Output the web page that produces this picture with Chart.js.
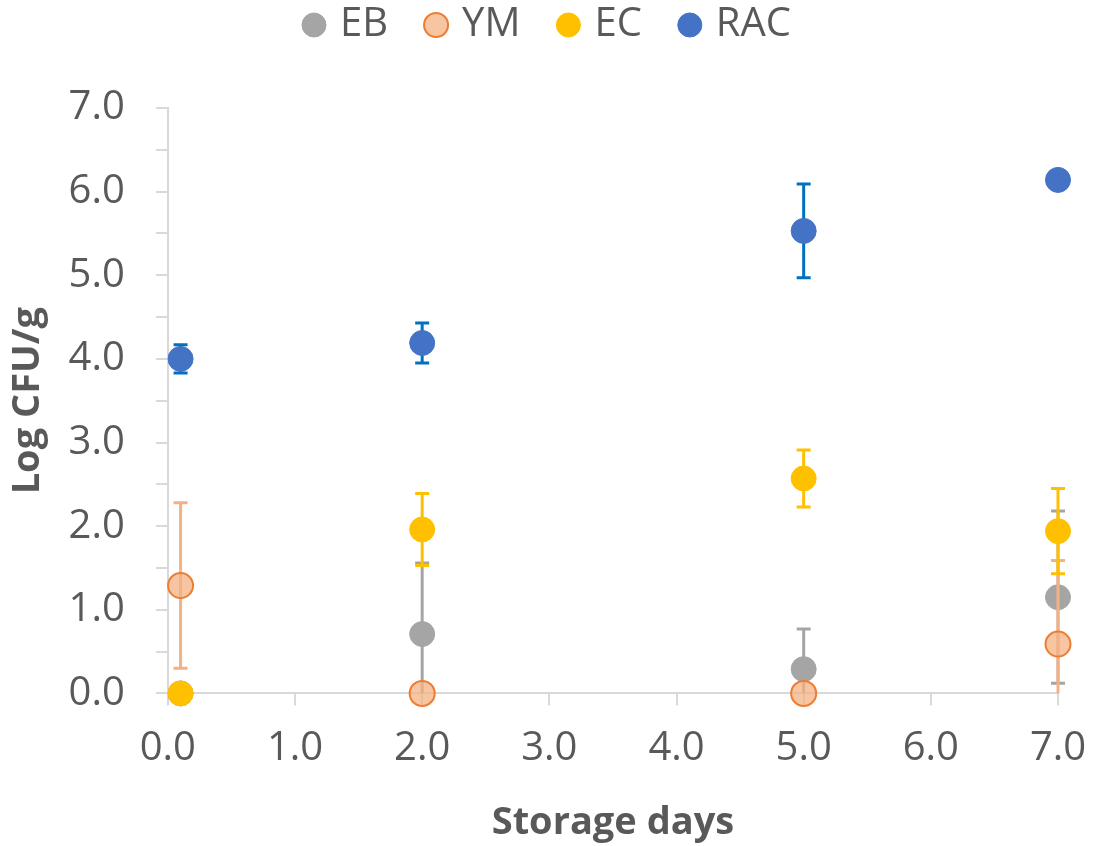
<!DOCTYPE html>
<html>
<head>
<meta charset="utf-8">
<script src="https://cdn.jsdelivr.net/npm/chart.js@4/dist/chart.umd.min.js"></script>
<style>
  html, body { margin: 0; padding: 0; background: #fff; }
  #wrap { width: 1094px; height: 846px; }
</style>
</head>
<body>
<div id="wrap"><canvas id="grafica"></canvas></div>
<script>
// storage days for each sampling point
const days = [0.1, 2, 5, 7];

// Log CFU/g per group, with +/- error
const ebValues = [0, 0.71, 0.29, 1.15];
const ebErrors = [0, 0.85, 0.48, 1.03];
const ymValues = [1.29, 0, 0, 0.59];
const ymErrors = [0.99, 0, 0, 1.0];
const ecValues = [0, 1.96, 2.57, 1.94];
const ecErrors = [0, 0.43, 0.34, 0.51];
const racValues = [4.0, 4.19, 5.53, 6.14];
const racErrors = [0.17, 0.24, 0.56, 0];

const seriesNames = ['EB', 'YM', 'EC', 'RAC'];

const toPoints = vals => vals.map((v, i) => ({ x: days[i], y: v }));

const textColor = '#595959';
const axisColor = '#D9D9D9';
const font = 'Open Sans';

// draws the error bars of a dataset right before its markers
const errorBars = {
  id: 'errorBars',
  beforeDatasetDraw(chart, args) {
    const ds = chart.data.datasets[args.index];
    if (!ds.errors) return;
    const { ctx, chartArea, scales } = chart;
    const xs = scales.x, ys = scales.y;
    ctx.save();
    ctx.beginPath();
    ctx.rect(chartArea.left - 30, chartArea.top - 30, chartArea.right - chartArea.left + 60, chartArea.bottom - chartArea.top + 30);
    ctx.clip();
    ctx.strokeStyle = ds.errorColor;
    ctx.lineWidth = 3;
    ds.data.forEach((p, i) => {
      const e = ds.errors[i];
      if (!e) return;
      const px = xs.getPixelForValue(p.x);
      const top = ys.getPixelForValue(p.y + e);
      const bot = ys.getPixelForValue(p.y - e);
      ctx.beginPath();
      ctx.moveTo(px, top);
      ctx.lineTo(px, bot);
      ctx.moveTo(px - 7, top);
      ctx.lineTo(px + 7, top);
      ctx.moveTo(px - 7, bot);
      ctx.lineTo(px + 7, bot);
      ctx.stroke();
    });
    ctx.restore();
  }
};

// extra room under the legend
const legendGap = {
  id: 'legendGap',
  beforeInit(chart) {
    const fit = chart.legend.fit;
    chart.legend.fit = function () {
      fit.bind(chart.legend)();
      this.height += 53;
    };
  }
};

const ctx = document.getElementById('grafica').getContext('2d');
new Chart(ctx, {
  type: 'scatter',
  data: {
    datasets: [
      {
        label: seriesNames[0],
        data: toPoints(ebValues),
        errors: ebErrors,
        errorColor: '#A5A5A5',
        backgroundColor: '#A5A5A5',
        borderColor: '#A5A5A5',
        order: 4
      },
      {
        label: seriesNames[1],
        data: toPoints(ymValues),
        errors: ymErrors,
        errorColor: '#F4B183',
        backgroundColor: 'rgba(244,177,131,0.75)',
        borderColor: '#ED7D31',
        pointBorderWidth: 2,
        order: 3
      },
      {
        label: seriesNames[2],
        data: toPoints(ecValues),
        errors: ecErrors,
        errorColor: '#FFC000',
        backgroundColor: '#FFC000',
        borderColor: '#FFC000',
        order: 2
      },
      {
        label: seriesNames[3],
        data: toPoints(racValues),
        errors: racErrors,
        errorColor: '#0070C0',
        backgroundColor: '#4472C4',
        borderColor: '#4472C4',
        order: 1
      }
    ]
  },
  options: {
    responsive: true,
    maintainAspectRatio: false,
    animation: false,
    clip: false,
    layout: { padding: { left: 5, right: 0, top: -37, bottom: 0 } },
    elements: { point: { radius: 12.5, borderWidth: 1, hoverRadius: 12.5 } },
    plugins: {
      tooltip: { enabled: false },
      legend: {
        position: 'top',
        reverse: true,
        labels: {
          usePointStyle: true,
          pointStyle: 'circle',
          boxWidth: 12,
          boxHeight: 17,
          padding: 42,
          color: textColor,
          font: { family: font, size: 40 }
        }
      }
    },
    scales: {
      x: {
        type: 'linear',
        min: 0,
        max: 7,
        afterFit: scale => { scale.paddingRight = 36; },
        ticks: {
          stepSize: 1,
          color: textColor,
          font: { family: font, size: 40 },
          padding: 19,
          callback: v => v.toFixed(1)
        },
        grid: { drawOnChartArea: false, color: axisColor, tickLength: 12, lineWidth: 2 },
        border: { color: axisColor, width: 2 },
        title: {
          display: true,
          text: 'Storage days',
          color: textColor,
          font: { family: font, size: 38, weight: 'bold' },
          padding: { top: 9, bottom: 0 }
        }
      },
      y: {
        min: 0,
        max: 7,
        ticks: {
          stepSize: 0.5,
          autoSkip: false,
          color: textColor,
          font: { family: font, size: 40 },
          padding: 31,
          callback: v => (v % 1 === 0 ? v.toFixed(1) : '')
        },
        grid: { drawOnChartArea: false, color: axisColor, tickLength: 12, lineWidth: 2 },
        border: { color: axisColor, width: 2 },
        title: {
          display: true,
          text: 'Log CFU/g',
          color: textColor,
          font: { family: font, size: 38, weight: 'bold' },
          padding: { top: 0, bottom: -13 }
        }
      }
    }
  },
  plugins: [errorBars, legendGap]
});
</script>
</body>
</html>
